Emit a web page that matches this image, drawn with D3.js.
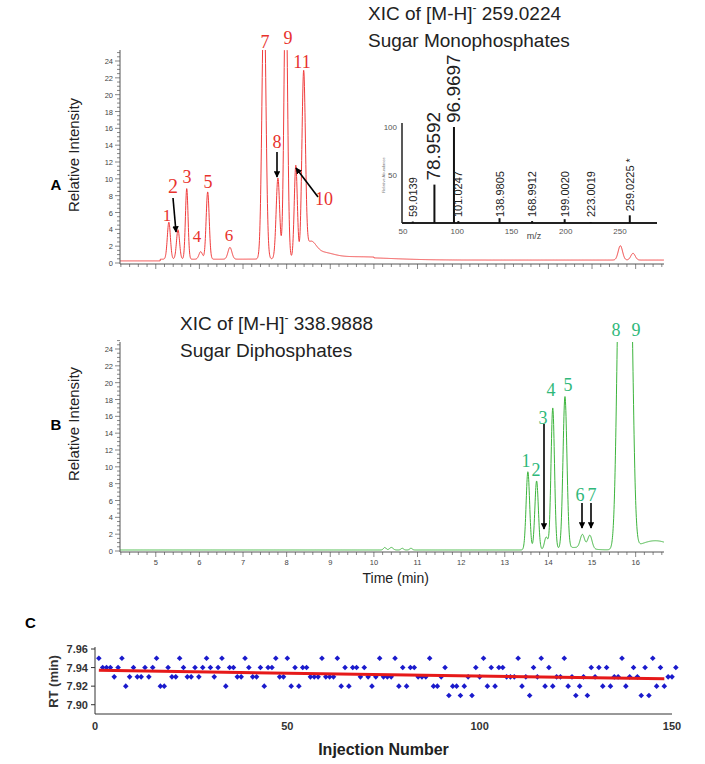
<!DOCTYPE html>
<html><head><meta charset="utf-8">
<script src="https://cdn.jsdelivr.net/npm/d3@7"></script>
<style>body{margin:0;background:#fff}svg{font-family:Arial,"Liberation Sans",sans-serif}</style>
</head><body>
<svg id="c" width="705" height="764"></svg>
<script>
// ---- data ----
// Panel A peaks: [time(min), height, sigma]
const peaksA = [[5.30,4.4,0.035],[5.51,3.5,0.035],[5.71,8.4,0.03],[6.03,0.9,0.04],[6.19,8.0,0.035],[6.70,1.4,0.045],
  [7.48,32,0.045],[7.80,9.6,0.04],[7.98,34,0.04],[8.21,11,0.035],[8.39,21.5,0.04],[8.55,1.6,0.12],[8.8,0.6,0.25],[9.5,0.3,0.9],[15.65,1.7,0.05],[15.94,0.8,0.05]];
const labelsA = ["1","2","3","4","5","6","7","8","9","10","11"];
// Panel B peaks
const peaksB = [[10.25,0.3,0.03],[10.4,0.3,0.04],[10.65,0.2,0.03],[10.85,0.2,0.03],
  [13.53,9.3,0.04],[13.73,8.2,0.04],[13.95,1.5,0.04],[14.10,16.8,0.04],[14.38,18.0,0.045],[14.78,1.6,0.05],[14.95,1.6,0.05],
  [14.6,0.3,0.3],[15.65,42,0.07],[15.86,40,0.07],[16.45,1.1,0.35]];
const labelsB = ["1","2","3","4","5","6","7","8","9"];
// Inset MS spectrum
const msMz = [59.0139,78.9592,96.9697,101.0247,138.9805,168.9912,199.0020,223.0019,259.0225];
const msInt = [1.5,40,100,2,5,2,4,1,8];
const msLabel = ["59.0139","78.9592","96.9697","101.0247","138.9805","168.9912","199.0020","223.0019","259.0225 *"];
// Panel C
const rtValues = [7.95,7.94,7.94,7.94,7.93,7.94,7.95,7.92,7.93,7.94,7.93,7.93,7.94,7.93,7.94,7.95,7.92,7.92,7.94,7.93,
 7.93,7.95,7.94,7.93,7.93,7.94,7.93,7.94,7.95,7.94,7.93,7.94,7.95,7.92,7.94,7.94,7.93,7.93,7.95,7.94,
 7.93,7.93,7.94,7.92,7.94,7.94,7.95,7.93,7.93,7.95,7.92,7.94,7.92,7.94,7.94,7.93,7.93,7.93,7.95,7.93,
 7.93,7.93,7.95,7.92,7.94,7.92,7.94,7.94,7.93,7.94,7.93,7.92,7.93,7.95,7.93,7.93,7.93,7.95,7.92,7.94,
 7.92,7.94,7.94,7.93,7.93,7.93,7.95,7.92,7.92,7.93,7.94,7.91,7.92,7.92,7.91,7.92,7.93,7.91,7.94,7.93,
 7.95,7.92,7.94,7.92,7.94,7.94,7.93,7.93,7.93,7.95,7.92,7.93,7.91,7.94,7.93,7.95,7.92,7.94,7.92,7.93,
 7.93,7.95,7.92,7.93,7.91,7.92,7.93,7.91,7.94,7.93,7.94,7.92,7.94,7.92,7.93,7.93,7.95,7.92,7.93,7.94,
 7.93,7.91,7.94,7.91,7.95,7.92,7.94,7.92,7.93,7.93,7.94];
const trend = [[1,7.937],[148,7.928]];
const yTicksChrom = [0,2,4,6,8,10,12,14,16,18,20,22,24];
const xTicksTime = [5,6,7,8,9,10,11,12,13,14,15,16];
const yTicksC = [7.90,7.92,7.94,7.96];
const xTicksC = [0,50,100,150];

const svg = d3.select("#c");
const defs = svg.append("defs");
const mk = defs.append("marker").attr("id","ah").attr("viewBox","0 0 10 10").attr("refX",9).attr("refY",5)
  .attr("markerWidth",4).attr("markerHeight",4).attr("orient","auto");
mk.append("path").attr("d","M0,0L10,5L0,10z").attr("fill","#000");

const x = d3.scaleLinear().domain([4.18,16.65]).range([120,664]);
function trace(peaks, base){
  const pts=[];
  for(let t=4.18;t<=16.65;t+=0.004){
    let v=base(t);
    peaks.forEach(([c,h,s])=>{v+=h*Math.exp(-0.5*((t-c)/s)**2);});
    pts.push([t,v]);
  }
  return pts;
}
function chromPanel(y0, yTop, peaks, base, color, id, showXLabels){
  const y = d3.scaleLinear().domain([0,24]).range([y0, y0-202]);
  const g = svg.append("g");
  defs.append("clipPath").attr("id",id).append("rect").attr("x",118).attr("y",yTop).attr("width",550).attr("height",y0-yTop+3);
  g.append("path").datum(trace(peaks,base)).attr("clip-path",`url(#${id})`)
    .attr("d",d3.line().x(d=>x(d[0])).y(d=>y(d[1]))).attr("fill","none").attr("stroke",color).attr("stroke-width",1);
  g.append("line").attr("x1",120).attr("x2",120).attr("y1",yTop).attr("y2",y0+1).attr("stroke","#555");
  g.selectAll(".ym").data(d3.range(0,25.1,0.5)).join("line").attr("x1",120).attr("x2",d=>d%2===0?115:117)
    .attr("y1",d=>y(d)).attr("y2",d=>y(d)).attr("stroke","#555").attr("stroke-width",0.7);
  g.selectAll(".yl").data(yTicksChrom).join("text").attr("x",113).attr("y",d=>y(d)+3).attr("text-anchor","end")
    .attr("font-size",7.5).attr("fill","#444").text(d=>d);
  g.append("line").attr("x1",120).attr("x2",664).attr("y1",y0+1).attr("y2",y0+1).attr("stroke","#555");
  g.selectAll(".xm").data(d3.range(4.2,16.65,0.2)).join("line").attr("x1",d=>x(d)).attr("x2",d=>x(d))
    .attr("y1",y0+1).attr("y2",d=>Math.abs(d-Math.round(d))<0.01?y0+6:y0+4).attr("stroke","#555").attr("stroke-width",0.7);
  if(showXLabels){
    g.selectAll(".xl").data(xTicksTime).join("text").attr("x",d=>x(d)).attr("y",y0+14).attr("text-anchor","middle")
      .attr("font-size",7.5).attr("fill","#444").text(d=>d);
  }
  return y;
}
const yA = chromPanel(263, 50, peaksA, t=> t<5.1?0.25:(t<10?0.45:0.35), "#f03c3c", "clipA", false);
const yB = chromPanel(551, 342, peaksB, t=>0.12, "#3cb43c", "clipB", true);

function title(xp,y,mass,sub){
  const t=svg.append("text").attr("x",xp).attr("y",y).attr("font-size",19).attr("fill","#222");
  t.append("tspan").text("XIC of [M-H]");
  t.append("tspan").attr("font-size",12).attr("dy",-8).text("-");
  t.append("tspan").attr("dy",8).text(" "+mass);
  svg.append("text").attr("x",xp).attr("y",y+27).attr("font-size",19).attr("fill","#222").text(sub);
}
title(368,20,"259.0224","Sugar Monophosphates");
title(180,330,"338.9888","Sugar Diphosphates");

const serif = "'Liberation Serif','DejaVu Serif',serif";
const posA = [[167,221,17],[173,193,20],[187,183,18],[197,242,17],[208,188,18],[229,241,17],[265,48,18],[277,148,18],[288,44,18],[324,205,18],[302,68,18]];
svg.selectAll(".la").data(labelsA).join("text").attr("x",(d,i)=>posA[i][0]).attr("y",(d,i)=>posA[i][1])
  .attr("font-size",(d,i)=>posA[i][2]).attr("text-anchor","middle").attr("fill","#e8322d").attr("font-family",serif).text(d=>d);
const posB = [[526,467],[536,476],[543,424],[551,396],[568,391],[580,501],[592,501],[616,336],[636,336]];
svg.selectAll(".lb").data(labelsB).join("text").attr("x",(d,i)=>posB[i][0]).attr("y",(d,i)=>posB[i][1])
  .attr("font-size",18).attr("text-anchor","middle").attr("fill","#2fb87a").attr("font-family",serif).text(d=>d);
function arrow(x1,y1,x2,y2){svg.append("line").attr("x1",x1).attr("y1",y1).attr("x2",x2).attr("y2",y2)
  .attr("stroke","#000").attr("stroke-width",1.6).attr("marker-end","url(#ah)");}
arrow(173,198,176,232); arrow(277,152,277,177); arrow(318,197,296,168);
arrow(544,424,544,529); arrow(582,503,582,528); arrow(591,503,591,528);

[["A",56,190],["B",56,430]].forEach(([t,xx,yy])=>svg.append("text").attr("x",xx).attr("y",yy).attr("font-size",15).attr("font-weight","bold").attr("text-anchor","middle").text(t));
svg.append("text").attr("x",25).attr("y",628).attr("font-size",15).attr("font-weight","bold").text("C");
[155,424].forEach(cy=>svg.append("text").attr("transform",`translate(79,${cy}) rotate(-90)`).attr("text-anchor","middle").attr("font-size",15).attr("fill","#222").text("Relative Intensity"));
svg.append("text").attr("x",x(10.5)).attr("y",583).attr("text-anchor","middle").attr("font-size",14).attr("fill","#222").text("Time (min)");

// Inset
const mx = d3.scaleLinear().domain([50,250]).range([403,620]);
const my = d3.scaleLinear().domain([0,100]).range([223,127]);
const ins = svg.append("g");
ins.append("line").attr("x1",402).attr("x2",402).attr("y1",123).attr("y2",223).attr("stroke","#222").attr("stroke-width",1.5);
ins.append("line").attr("x1",402).attr("x2",657).attr("y1",223).attr("y2",223).attr("stroke","#222").attr("stroke-width",2);
ins.selectAll(".bar").data(msMz).join("line").attr("x1",d=>mx(d)).attr("x2",d=>mx(d)).attr("y1",223).attr("y2",(d,i)=>my(msInt[i]))
  .attr("stroke","#111").attr("stroke-width",2);
ins.selectAll(".ml").data(msLabel).join("text")
  .attr("transform",(d,i)=>{const big=msInt[i]>30;const yy=big?my(msInt[i])-4:(i===8?my(msInt[i])-4:217);return `translate(${mx(msMz[i])+ (big?6:4)},${yy}) rotate(-90)`;})
  .attr("font-size",(d,i)=>msInt[i]>30?19:11).attr("fill","#222").text(d=>d);
ins.selectAll(".mt").data([50,100,150,200,250]).join("text").attr("x",d=>mx(d)).attr("y",234).attr("text-anchor","middle").attr("font-size",8).attr("fill","#555").text(d=>d);
ins.selectAll(".myt").data([50,100]).join("text").attr("x",397).attr("y",d=>my(d)+3).attr("text-anchor","end").attr("font-size",8).attr("fill","#555").text(d=>d);
ins.append("text").attr("x",534).attr("y",239).attr("text-anchor","middle").attr("font-size",9).attr("fill","#444").text("m/z");
ins.append("text").attr("transform","translate(385,175) rotate(-90)").attr("text-anchor","middle").attr("font-size",4).attr("fill","#777").text("Relative Abundance");

// Panel C
const cx = d3.scaleLinear().domain([0,150]).range([95,672]);
const cy = d3.scaleLinear().domain([7.89,7.96]).range([714,649]);
const gc = svg.append("g");
gc.append("line").attr("x1",95).attr("x2",95).attr("y1",647).attr("y2",714).attr("stroke","#333");
gc.append("line").attr("x1",95).attr("x2",672).attr("y1",714).attr("y2",714).attr("stroke","#333");
gc.selectAll(".ct").data(yTicksC).join("line").attr("x1",91).attr("x2",95).attr("y1",d=>cy(d)).attr("y2",d=>cy(d)).attr("stroke","#333");
gc.selectAll(".cyl").data(yTicksC).join("text").attr("x",88).attr("y",d=>cy(d)+4).attr("text-anchor","end").attr("font-size",11).attr("font-weight","bold").attr("fill","#333").text(d=>d.toFixed(2));
gc.selectAll(".cxl").data(xTicksC).join("text").attr("x",d=>cx(d)).attr("y",730).attr("text-anchor","middle").attr("font-size",11).attr("font-weight","bold").attr("fill","#333").text(d=>d);
gc.selectAll(".pt").data(rtValues).join("path").attr("transform",(d,i)=>`translate(${cx(i+1)},${cy(d)})`)
  .attr("d","M0,-2.8L2.8,0L0,2.8L-2.8,0Z").attr("fill","#1a1acc");
gc.append("path").datum(trend).attr("d",d3.line().x(d=>cx(d[0])).y(d=>cy(d[1]))).attr("stroke","#e61919").attr("stroke-width",3).attr("fill","none");
gc.append("text").attr("transform",`translate(58,${cy(7.925)}) rotate(-90)`).attr("text-anchor","middle").attr("font-size",13).attr("font-weight","bold").attr("fill","#333").text("RT (min)");
gc.append("text").attr("x",cx(75)).attr("y",755).attr("text-anchor","middle").attr("font-size",16).attr("font-weight","bold").attr("fill","#222").text("Injection Number");
</script></body></html>
